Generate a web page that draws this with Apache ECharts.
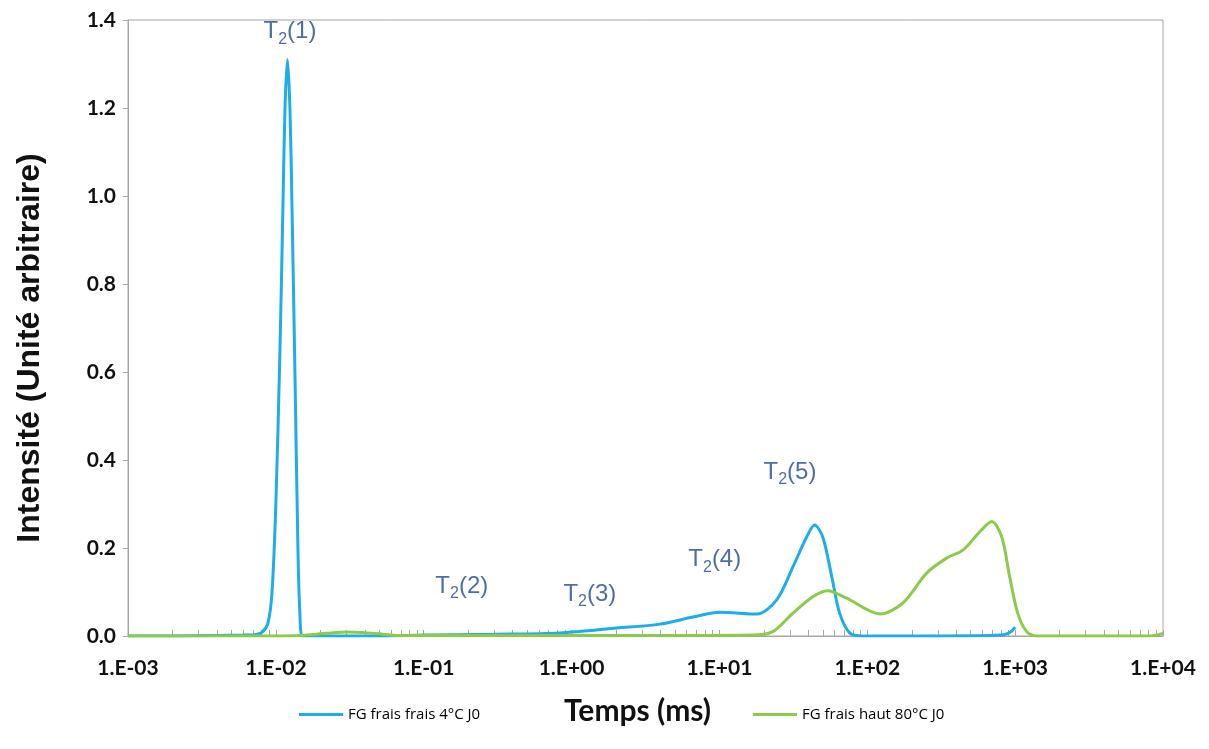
<!DOCTYPE html>
<html lang="fr">
<head>
  <meta charset="UTF-8">
  <title>T2</title>
  <style>
    html, body { margin: 0; padding: 0; background: #fff; }
    #chart { width: 1209px; height: 749px; }
  </style>
</head>
<body>
  <div id="chart"></div>
  <script src="https://cdn.jsdelivr.net/npm/echarts@6/dist/echarts.min.js"></script>
  <script>
    // temps (ms) / intensité
    var blueT = [0.001, 0.002, 0.004, 0.006, 0.00723, 0.00805, 0.00885, 0.00942, 0.0100, 0.01066, 0.01117, 0.01153, 0.01198, 0.01245, 0.01285, 0.01346, 0.0141, 0.01455, 0.01525, 0.02, 0.05, 0.1, 0.3, 0.834, 2.02, 3.95, 6.6, 10.1, 17.9, 24.4, 31.4, 38.9, 44, 50, 57.5, 65, 76, 92, 300, 800, 920, 1000]
    var blueI = [0, 0, 0.001, 0.002, 0.003, 0.008, 0.03, 0.1, 0.3, 0.65, 0.98, 1.2, 1.31, 1.2, 0.98, 0.6, 0.2, 0.05, 0, 0, 0, 0.002, 0.004, 0.007, 0.018, 0.027, 0.043, 0.054, 0.05, 0.082, 0.157, 0.225, 0.252, 0.225, 0.135, 0.052, 0.007, 0, 0, 0.002, 0.008, 0.02]
    var greenT = [0.001, 0.01, 0.0146, 0.022, 0.030, 0.045, 0.069, 0.2, 1, 5, 16.8, 23, 31, 42.8, 54, 72.5, 122, 174, 252, 344, 443, 577, 695, 812, 918, 1040, 1196, 1400, 3000, 8000, 10000]
    var greenI = [0, 0, 0.001, 0.006, 0.009, 0.006, 0.001, 0.001, 0.001, 0.001, 0.002, 0.01, 0.05, 0.089, 0.103, 0.086, 0.05, 0.075, 0.143, 0.177, 0.195, 0.237, 0.26, 0.225, 0.135, 0.052, 0.01, 0, 0, 0, 0.006]
    var seriesNames = ['FG frais frais 4°C J0', 'FG frais haut 80°C J0']
    // étiquettes T2(n) : [temps, intensité]
    var peakLabels = ['1', '2', '3', '4', '5']
    var peakT = [0.01245, 0.181, 1.33, 9.3, 30]
    var peakI = [1.37, 0.109, 0.091, 0.17, 0.368]

    function pairs(xs, ys) {
      var out = []
      for (var i = 0; i < xs.length; i++) out.push([xs[i], ys[i]])
      return out
    }

    // petites graduations log (2..9 par décade)
    var minorTicks = []
    for (var e = -3; e < 4; e++) {
      for (var k = 1; k < 10; k++) minorTicks.push(e + Math.log10(k))
    }
    minorTicks.push(4)

    var labelData = peakLabels.map(function (n, i) {
      return { name: n, value: [peakT[i], peakI[i]] }
    })

    var legendText = { fontFamily: "'Liberation Sans Narrow', 'Open Sans', sans-serif", fontSize: 15, color: '#000' }

    var chart = echarts.init(document.getElementById('chart'))
    var option = {
      backgroundColor: '#fff',
      animation: false,
      grid: {
        left: 128, right: 46, top: 20, bottom: 113,
        show: true, borderColor: '#a6a6a6', borderWidth: 1
      },
      legend: [{
        data: [seriesNames[0]], left: 294, top: 702,
        icon: 'rect', itemWidth: 44, itemHeight: 3, itemGap: 2,
        textStyle: legendText
      }, {
        data: [seriesNames[1]], left: 748, top: 702,
        icon: 'rect', itemWidth: 44, itemHeight: 3, itemGap: 2,
        textStyle: legendText
      }],
      xAxis: [{
        type: 'log', min: 0.001, max: 10000, logBase: 10,
        name: 'Temps (ms)', nameLocation: 'middle', nameGap: 60,
        nameTextStyle: { fontFamily: 'Lato', fontWeight: 'bold', fontSize: 30, color: '#111', padding: [0, 16, 0, 0] },
        axisLine: { lineStyle: { color: '#a6a6a6', width: 1 } },
        axisTick: { show: false },
        splitLine: { show: false },
        axisLabel: {
          margin: 22, fontFamily: 'Lato', fontWeight: 'bold', fontSize: 21, color: '#111',
          formatter: function (v) {
            var p = Math.round(Math.log10(v))
            var s = Math.abs(p) < 10 ? '0' + Math.abs(p) : '' + Math.abs(p)
            return '1.E' + (p < 0 ? '-' : '+') + s
          }
        }
      }, {
        type: 'value', min: -3, max: 4, position: 'bottom',
        axisLine: { show: false },
        axisLabel: { show: false },
        splitLine: { show: false },
        axisTick: { show: true, inside: true, length: 6, customValues: minorTicks, lineStyle: { color: '#a6a6a6' } }
      }],
      yAxis: {
        type: 'value', min: 0, max: 1.4, interval: 0.2,
        name: 'Intensité (Unité arbitraire)', nameLocation: 'middle', nameGap: 82,
        nameTextStyle: { fontFamily: 'Liberation Sans', fontWeight: 'bold', fontSize: 32, color: '#111', padding: [0, 40, 0, 0] },
        axisLine: { show: true, onZero: false, lineStyle: { color: '#a6a6a6' } },
        axisTick: { show: true, length: 5, lineStyle: { color: '#a6a6a6' } },
        splitLine: { show: false },
        axisLabel: {
          margin: 12, fontFamily: 'Lato', fontWeight: 'bold', fontSize: 21, color: '#111',
          formatter: function (v) { return v.toFixed(1) }
        }
      },
      series: [{
        name: seriesNames[0], type: 'line', data: pairs(blueT, blueI),
        smooth: 0.3, showSymbol: false,
        lineStyle: { color: '#1cadea', width: 3 }, itemStyle: { color: '#1cadea' }
      }, {
        name: seriesNames[1], type: 'line', data: pairs(greenT, greenI),
        smooth: 0.3, showSymbol: false,
        lineStyle: { color: '#8ccb4a', width: 3 }, itemStyle: { color: '#8ccb4a' }
      }, {
        name: 'labels', type: 'scatter', data: labelData,
        symbolSize: 0, silent: true,
        label: {
          show: true, position: 'inside',
          formatter: function (p) { return '{m|T}{s|2}{m|(' + p.name + ')}' },
          rich: {
            m: { fontFamily: 'Liberation Sans', fontSize: 24, color: '#224a8a', lineHeight: 27, verticalAlign: 'top' },
            s: { fontFamily: 'Liberation Sans', fontSize: 16, color: '#224a8a', verticalAlign: 'top', padding: [12, 0, 0, 0] }
          }
        }
      }]
    }
    chart.setOption(option)
  </script>
</body>
</html>
